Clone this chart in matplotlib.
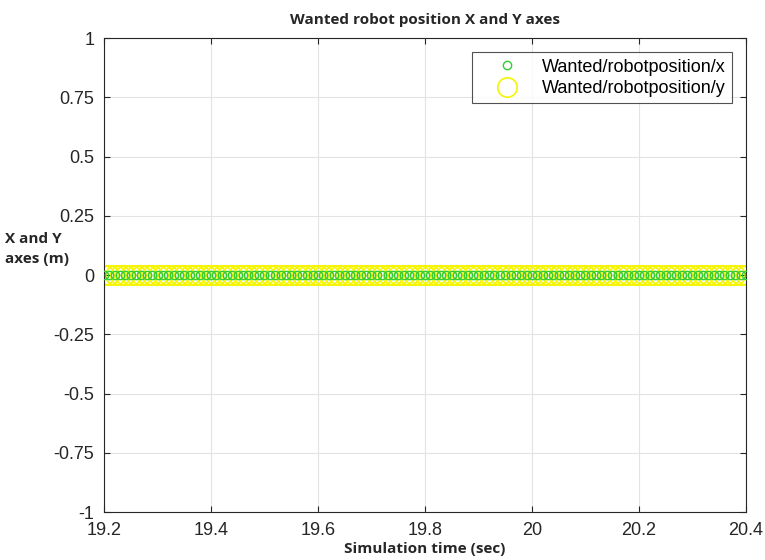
import numpy as np
import matplotlib
matplotlib.use('Agg')
import matplotlib.pyplot as plt

# Simulation time samples (sec)
time = [19.20, 19.21, 19.22, 19.23, 19.24, 19.25, 19.26, 19.27, 19.28, 19.29,
        19.30, 19.31, 19.32, 19.33, 19.34, 19.35, 19.36, 19.37, 19.38, 19.39,
        19.40, 19.41, 19.42, 19.43, 19.44, 19.45, 19.46, 19.47, 19.48, 19.49,
        19.50, 19.51, 19.52, 19.53, 19.54, 19.55, 19.56, 19.57, 19.58, 19.59,
        19.60, 19.61, 19.62, 19.63, 19.64, 19.65, 19.66, 19.67, 19.68, 19.69,
        19.70, 19.71, 19.72, 19.73, 19.74, 19.75, 19.76, 19.77, 19.78, 19.79,
        19.80, 19.81, 19.82, 19.83, 19.84, 19.85, 19.86, 19.87, 19.88, 19.89,
        19.90, 19.91, 19.92, 19.93, 19.94, 19.95, 19.96, 19.97, 19.98, 19.99,
        20.00, 20.01, 20.02, 20.03, 20.04, 20.05, 20.06, 20.07, 20.08, 20.09,
        20.10, 20.11, 20.12, 20.13, 20.14, 20.15, 20.16, 20.17, 20.18, 20.19,
        20.20, 20.21, 20.22, 20.23, 20.24, 20.25, 20.26, 20.27, 20.28, 20.29,
        20.30, 20.31, 20.32, 20.33, 20.34, 20.35, 20.36, 20.37, 20.38, 20.39,
        20.40]
# wanted positions (m), all zero
pos_x = [0.0] * len(time)
pos_y = [0.0] * len(time)

xticks = [19.2, 19.4, 19.6, 19.8, 20, 20.2, 20.4]
xticklabels = ['19.2', '19.4', '19.6', '19.8', '20', '20.2', '20.4']
yticks = [-1, -0.75, -0.5, -0.25, 0, 0.25, 0.5, 0.75, 1]
yticklabels = ['-1', '-0.75', '-0.5', '-0.25', '0', '0.25', '0.5', '0.75', '1']

plt.rcParams['font.family'] = ['Liberation Sans', 'DejaVu Sans']
bold_font = ['Open Sans', 'DejaVu Sans']

fig = plt.figure(figsize=(7.65, 5.6), dpi=100)
ax = fig.add_axes([0.136, 0.0857, 0.839, 0.846])

ax.plot(time, pos_x, linestyle='none', marker='o', markersize=6,
        markerfacecolor='none', markeredgecolor='#33cc33', markeredgewidth=1.0,
        label='Wanted/robotposition/x', zorder=3)
ax.plot(time, pos_y, linestyle='none', marker='o', markersize=14,
        markerfacecolor='none', markeredgecolor='#f5f500', markeredgewidth=1.2,
        label='Wanted/robotposition/y', zorder=2)

ax.set_xlim(19.2, 20.4)
ax.set_ylim(-1, 1)
ax.set_xticks(xticks)
ax.set_xticklabels(xticklabels)
ax.set_yticks(yticks)
ax.set_yticklabels(yticklabels)
ax.tick_params(direction='in', labelsize=13, length=4, top=True, right=True,
               colors='#262626')
ax.tick_params(axis='x', pad=7)
ax.tick_params(axis='y', pad=7)
ax.grid(True, color='#e3e3e3', linewidth=0.8)
ax.set_axisbelow(True)
for s in ax.spines.values():
    s.set_color('#262626')
    s.set_linewidth(0.8)

ax.set_title('Wanted robot position X and Y axes', fontsize=11, fontweight='bold',
             family=bold_font, color='#262626', pad=10)
ax.set_xlabel('Simulation time (sec)', fontsize=11, fontweight='bold',
              family=bold_font, color='#262626', labelpad=2)
ax.set_ylabel('X and Y\naxes (m)', fontsize=11, fontweight='bold', rotation=0,
              family=bold_font, color='#262626',
              ha='left', va='center', linespacing=1.5)
ax.yaxis.set_label_coords(-0.155, 0.555)

leg = ax.legend(loc='upper right', fontsize=13, frameon=True, fancybox=False,
                edgecolor='#262626', borderaxespad=0.78, handletextpad=0.3,
                labelspacing=0.25, borderpad=0.35, handlelength=3.2)
leg.get_frame().set_linewidth(0.8)

plt.savefig('out.png', dpi=100)
